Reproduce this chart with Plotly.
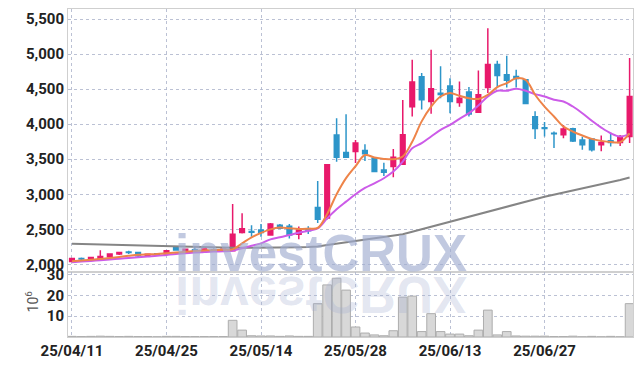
import plotly.graph_objects as go

dates = ["25/04/11","25/04/14","25/04/15","25/04/16","25/04/17","25/04/18","25/04/21","25/04/22","25/04/23","25/04/24",
         "25/04/25","25/04/28","25/04/29","25/04/30","25/05/02","25/05/07","25/05/08","25/05/09","25/05/12","25/05/13",
         "25/05/14","25/05/15","25/05/16","25/05/19","25/05/20","25/05/21","25/05/22","25/05/23","25/05/26","25/05/27",
         "25/05/28","25/05/29","25/05/30","25/06/02","25/06/04","25/06/05","25/06/09","25/06/10","25/06/11","25/06/12",
         "25/06/13","25/06/16","25/06/17","25/06/18","25/06/19","25/06/20","25/06/23","25/06/24","25/06/25","25/06/26",
         "25/06/27","25/06/30","25/07/01","25/07/02","25/07/03","25/07/04","25/07/07","25/07/08","25/07/09","25/07/10"]

open_ = [2040,2085,2065,2080,2110,2148,2175,2170,2128,2152,
         2150,2240,2180,2210,2190,2208,2195,2195,2455,2470,
         2490,2420,2560,2545,2430,2510,2810,2660,3845,3595,
         3610,3625,3515,3345,3395,3430,4250,4675,4325,4440,
         4545,4310,4460,4170,4525,4850,4705,4680,4635,4105,
         3950,3870,3850,3935,3775,3790,3705,3765,3740,3825]
high = [2095,2100,2108,2200,2160,2180,2195,2175,2150,2160,
        2200,2245,2225,2250,2230,2225,2225,2860,2730,2560,
        2575,2590,2575,2575,2540,2545,3190,3430,4085,4140,
        3775,3715,3520,3450,3645,4345,4920,4730,5060,4825,
        4655,4610,4530,4765,5370,4905,4975,4775,4640,4185,
        4030,3895,3990,3950,3820,3800,3840,3860,3845,4945]
low = [2030,2060,2050,2070,2100,2135,2150,2105,2115,2130,
       2120,2200,2170,2170,2180,2185,2185,2190,2440,2395,
       2395,2410,2505,2370,2360,2435,2590,2640,3465,3525,
       3445,3475,3315,3260,3243,3420,4110,4210,4150,4370,
       4157,4250,4110,4160,4445,4515,4525,4525,4290,3790,
       3825,3660,3800,3745,3635,3610,3615,3680,3690,3730]
close = [2085,2078,2100,2112,2150,2168,2168,2125,2145,2145,
         2195,2205,2215,2200,2220,2200,2215,2430,2510,2460,
         2455,2575,2515,2420,2490,2480,2645,3420,3530,3530,
         3730,3580,3325,3315,3530,3850,4600,4350,4505,4425,
         4325,4370,4145,4420,4850,4695,4625,4650,4295,3940,
         3940,3865,3930,3760,3705,3635,3740,3740,3825,4395]

ma_short = [2045,2055,2065,2078,2092,2107,2122,2136,2143,2150,
            2160,2170,2180,2190,2198,2205,2208,2214,2300,2385,
            2450,2500,2525,2515,2505,2510,2520,2720,3000,3230,
            3400,3560,3525,3505,3500,3540,3750,4040,4250,4395,
            4445,4405,4370,4360,4420,4530,4586,4655,4633,4420,
            4250,4110,3967,3895,3838,3790,3762,3745,3745,3870]
ma_mid = [2030,2040,2050,2060,2070,2080,2092,2103,2113,2122,
          2135,2148,2158,2168,2176,2183,2188,2195,2230,2265,
          2300,2357,2386,2419,2452,2481,2514,2657,2786,2895,
          3000,3090,3157,3229,3324,3467,3657,3729,3824,3919,
          3990,4076,4157,4267,4395,4476,4476,4505,4476,4429,
          4395,4348,4324,4252,4157,4048,3952,3871,3824,3862]
ma_long = [2295,2291,2287,2283,2279,2275,2271,2267,2263,2259,
           2255,2251,2248,2245,2242,2240,2238,2237,2236,2236,
           2236,2237,2238,2240,2243,2247,2255,2275,2295,2315,
           2335,2355,2375,2395,2410,2430,2465,2500,2535,2575,
           2610,2645,2680,2715,2750,2790,2825,2860,2895,2930,
           2966,2995,3025,3055,3085,3115,3145,3175,3205,3240]

volume_m = [0.3,0.2,0.3,0.4,0.3,0.2,0.3,0.2,0.2,0.1,
            0.3,0.3,0.2,0.2,0.2,0.2,0.2,8.0,3.3,0.6,
            0.5,0.5,0.3,0.5,0.3,0.3,16.0,25.0,28.2,22.5,
            4.8,1.9,1.0,0.6,3.0,19.1,19.6,2.6,11.2,2.6,
            1.4,1.4,0.6,3.3,12.9,1.0,2.6,0.5,0.4,0.4,
            0.4,0.2,0.2,0.4,0.1,0.3,0.1,0.3,0.1,16.0]

tick_dates = ["25/04/11","25/04/25","25/05/14","25/05/28","25/06/13","25/06/27"]
price_ticks = [2000,2500,3000,3500,4000,4500,5000,5500]
vol_ticks = [10,20,30]

UP = "#e8196b"
DOWN = "#2d95c9"
GRID = "rgba(175,182,205,0.85)"
AXIS = "#cfcfcf"
FONT = "Liberation Sans Narrow, Roboto, sans-serif"
TICKFONT = dict(family=FONT, size=15, color="#222222", weight="bold")

fig = go.Figure()

fig.add_trace(go.Bar(x=dates, y=volume_m, xaxis="x2", yaxis="y2",
                     marker=dict(color="#d8d8d8", line=dict(color="#adadad", width=1)),
                     showlegend=False, hoverinfo="skip"))

fig.add_trace(go.Scatter(x=dates, y=ma_long, mode="lines", line=dict(color="#858585", width=2),
                         showlegend=False, hoverinfo="skip"))

fig.add_trace(go.Candlestick(x=dates, open=open_, high=high, low=low, close=close,
                             increasing=dict(line=dict(color=UP, width=1.5), fillcolor=UP),
                             decreasing=dict(line=dict(color=DOWN, width=1.5), fillcolor=DOWN),
                             whiskerwidth=0, showlegend=False))

fig.add_trace(go.Scatter(x=dates, y=ma_mid, mode="lines", line=dict(color="#cc5be8", width=2, shape="spline"),
                         showlegend=False, hoverinfo="skip"))
fig.add_trace(go.Scatter(x=dates, y=ma_short, mode="lines", line=dict(color="#ee8449", width=2, shape="spline"),
                         showlegend=False, hoverinfo="skip"))

split = 0.197
xr = [-0.42, 59.36]

common_x = dict(type="category", range=xr, showgrid=True, gridcolor=GRID, griddash="dot", gridwidth=1,
                tickmode="array", tickvals=tick_dates, showline=True, linecolor=AXIS, linewidth=1,
                mirror=True, ticks="", zeroline=False, rangeslider=dict(visible=False))

fig.update_layout(
    width=642, height=366,
    margin=dict(l=68, r=9, t=9, b=29, autoexpand=False),
    paper_bgcolor="white", plot_bgcolor="white",
    font=dict(family=FONT, size=15, color="#222222"),
    bargap=0.08,
    xaxis=dict(common_x, anchor="y", showticklabels=False),
    xaxis2=dict(common_x, anchor="y2", matches="x", showticklabels=True, ticktext=tick_dates,
                tickfont=TICKFONT),
    yaxis=dict(domain=[split, 1], range=[1886, 5643], tickvals=price_ticks, tickformat=",",
               tickfont=TICKFONT,
               showgrid=True, gridcolor=GRID, griddash="dot", showline=True, linecolor=AXIS,
               mirror=True, ticks="", zeroline=False),
    yaxis2=dict(domain=[0, split], range=[0, 31], tickvals=vol_ticks, tickfont=TICKFONT,
                showgrid=True, gridcolor=GRID, griddash="dot", showline=True, linecolor=AXIS,
                mirror=True, ticks="", zeroline=False),
    annotations=[
        dict(text="<b>investCRUX</b>", xref="paper", yref="paper", x=0.447, y=0.255,
             xanchor="center", yanchor="middle", showarrow=False,
             font=dict(family="Liberation Sans", size=51, color="rgba(160,172,208,0.65)")),
        dict(text="<b>investCRUX</b>", xref="paper", yref="paper", x=0.447, y=0.13,
             xanchor="center", yanchor="middle", showarrow=False,
             font=dict(family="Liberation Sans", size=51, color="rgba(160,172,208,0.3)")),
        dict(text="10<sup>6</sup>", xref="paper", yref="paper", x=-0.064, y=0.108,
             xanchor="center", yanchor="middle", showarrow=False, textangle=-90,
             font=dict(family=FONT, size=14, color="#555555")),
    ],
)

post = """
document.body.style.margin='0';
document.body.style.padding='0';
var gd = document.getElementById('{plot_id}');
var t = gd.querySelector('g.annotation[data-index="1"] text.annotation-text');
if (t) { t.style.transformBox='fill-box'; t.style.transformOrigin='center'; t.style.transform='scaleY(-1)'; }
"""

fig.write_html("out.html", post_script=post, config={"displayModeBar": False})
